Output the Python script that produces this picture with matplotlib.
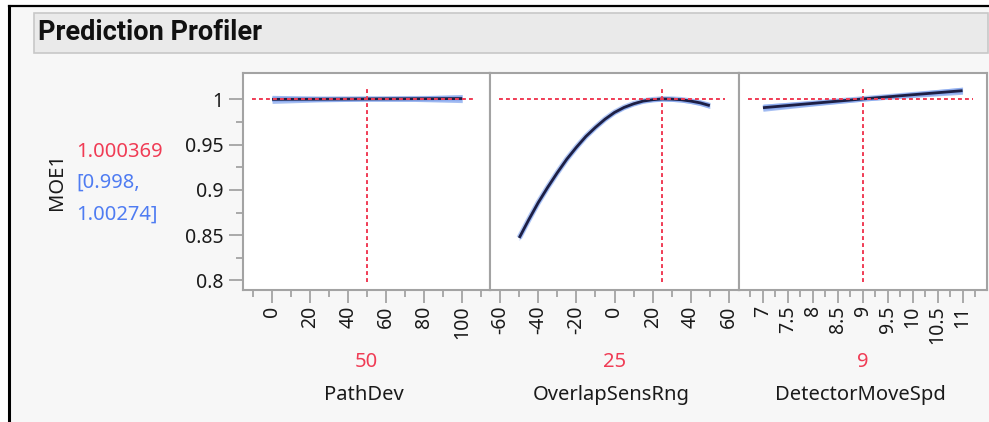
import matplotlib.pyplot as plt
from matplotlib.lines import Line2D
from matplotlib.patches import Rectangle
from matplotlib.ticker import FixedLocator

plt.rcParams['font.family'] = ['Noto Sans', 'DejaVu Sans']

# predicted response and current settings
pred = 1.000369
ci_text = ['[0.998,', '1.00274]']
factors = ['PathDev', 'OverlapSensRng', 'DetectorMoveSpd']
current = [50, 25, 9]

path_x = [0, 25, 50, 75, 100]
path_y = [0.9999, 1.0001, 1.000369, 1.0006, 1.0008]
path_hw = [0.0045, 0.003, 0.0024, 0.003, 0.0045]

overlap_x = [-50, -45, -40, -35, -30, -25, -20, -15, -10, -5, 0,
             5, 10, 15, 20, 25, 30, 35, 40, 45, 50]
overlap_y = [0.847, 0.867, 0.886, 0.903, 0.919, 0.934, 0.947, 0.959, 0.969,
             0.978, 0.9855, 0.991, 0.995, 0.998, 0.9995, 1.000369, 1.0002,
             0.9995, 0.998, 0.996, 0.993]
overlap_hw = [0.003, 0.0028, 0.0026, 0.0024, 0.0023, 0.0022, 0.0021, 0.002,
              0.002, 0.002, 0.002, 0.002, 0.002, 0.002, 0.0021, 0.0024,
              0.0025, 0.0026, 0.0028, 0.003, 0.0032]

det_x = [7, 8, 9, 10, 11]
det_y = [0.9907, 0.9955, 1.000369, 1.005, 1.0095]
det_hw = [0.004, 0.003, 0.0024, 0.003, 0.004]

xs = [path_x, overlap_x, det_x]
ys = [path_y, overlap_y, det_y]
hws = [path_hw, overlap_hw, det_hw]

xlims = [(-15.3, 114.6), (-65.3, 65.3), (6.52, 11.49)]
majors = [list(range(0, 101, 20)), list(range(-60, 61, 20)),
          [7, 7.5, 8, 8.5, 9, 9.5, 10, 10.5, 11]]
minors = [list(range(-10, 111, 20)), list(range(-50, 51, 20)),
          [6.75, 7.25, 7.75, 8.25, 8.75, 9.25, 9.75, 10.25, 10.75, 11.25]]
xlabels = [['0', '20', '40', '60', '80', '100'],
           ['-60', '-40', '-20', '0', '20', '40', '60'],
           ['7', '7.5', '8', '8.5', '9', '9.5', '10', '10.5', '11']]

W, H = 989, 422
fig = plt.figure(figsize=(W / 100, H / 100), dpi=100)
fig.patch.set_facecolor('#f7f7f7')

red = '#f03c55'
blue = '#4f7cf2'
grey = '#a3a3a3'
ink = '#1a1a1a'

def fx(px):
    return px / W

def fy(py):
    return 1 - py / H

# white margin and black frame
fig.add_artist(Rectangle((0, fy(6)), 1, 1 - fy(6), transform=fig.transFigure,
                         facecolor='white', edgecolor='none', zorder=0))
fig.add_artist(Rectangle((0, 0), fx(8), 1, transform=fig.transFigure,
                         facecolor='white', edgecolor='none', zorder=0))
fig.add_artist(Line2D([fx(9), 1], [fy(6), fy(6)], transform=fig.transFigure,
                      color='black', lw=1.6))
fig.add_artist(Line2D([fx(9), fx(9)], [0, fy(6)], transform=fig.transFigure,
                      color='black', lw=2.2))

# title bar
fig.add_artist(Rectangle((fx(34), fy(53)), fx(988) - fx(34), fy(13) - fy(53),
                         transform=fig.transFigure, facecolor='#eaeaea',
                         edgecolor='#c8c8c8', lw=1.2))
fig.text(fx(38), fy(33), 'Prediction Profiler', fontsize=19.5,
         fontweight='bold', family=['Roboto', 'DejaVu Sans'],
         va='center', ha='left', color='#111111')

# response labels on the left
fs = 14.5
fig.text(fx(57), fy(181), 'MOE1', rotation=90, fontsize=fs, ha='center',
         va='center', color=ink)
fig.text(fx(76), fy(152), f'{pred:.6f}', fontsize=fs, color=red,
         ha='left', va='center')
fig.text(fx(76), fy(183), ci_text[0], fontsize=fs, color=blue,
         ha='left', va='center')
fig.text(fx(76), fy(215), ci_text[1], fontsize=fs, color=blue,
         ha='left', va='center')

edges = [243, 490, 739, 987]
top, bottom = 73, 290

for i in range(3):
    ax = fig.add_axes([fx(edges[i]), fy(bottom), fx(edges[i + 1] - edges[i]),
                       (bottom - top) / H])
    ax.set_facecolor('white')
    ax.set_xlim(*xlims[i])
    ax.set_ylim(0.7895, 1.029)
    for s in ax.spines.values():
        s.set_color(grey)
        s.set_linewidth(1.5)

    lo = [y - h for y, h in zip(ys[i], hws[i])]
    hi = [y + h for y, h in zip(ys[i], hws[i])]
    ax.fill_between(xs[i], lo, hi, color='#6d95ea', alpha=0.6, lw=0,
                    zorder=2)
    # soft blue halo around the fitted line
    ax.plot(xs[i], ys[i], color='#7fa2ee', lw=4.0, alpha=0.6, zorder=2.5,
            solid_capstyle='butt')
    ax.plot(xs[i], ys[i], color='#1d1f45', lw=2.0, zorder=3,
            solid_capstyle='butt', solid_joinstyle='round')

    ax.axhline(pred, xmin=0.035, xmax=0.945, color=red, lw=1.4,
               ls=(0, (2, 1.6)), zorder=4)
    ax.axvline(current[i], ymin=0.038, ymax=0.934, color=red, lw=1.4,
               ls=(0, (2, 1.6)), zorder=4)

    ax.xaxis.set_major_locator(FixedLocator(majors[i]))
    ax.xaxis.set_minor_locator(FixedLocator(minors[i]))
    ax.set_xticklabels(xlabels[i], rotation=90, fontsize=14)
    ax.tick_params(axis='x', which='major', length=9, width=1.3,
                   color=grey, pad=2, labelcolor=ink)
    ax.tick_params(axis='x', which='minor', length=5, width=1.3, color=grey)

    if i == 0:
        ax.yaxis.set_major_locator(FixedLocator([0.8, 0.85, 0.9, 0.95, 1.0]))
        ax.yaxis.set_minor_locator(FixedLocator([0.825, 0.875, 0.925, 0.975]))
        ax.set_yticklabels(['0.8', '0.85', '0.9', '0.95', '1'], fontsize=14)
        ax.tick_params(axis='y', which='major', length=10, width=1.3,
                       color=grey, pad=4, labelcolor=ink)
        ax.tick_params(axis='y', which='minor', length=5, width=1.3,
                       color=grey)
    else:
        ax.set_yticks([])

    cx = fx((edges[i] + edges[i + 1]) / 2)
    fig.text(cx, fy(362), str(current[i]), fontsize=fs, color=red,
             ha='center', va='center')
    fig.text(cx - fx(3), fy(395), factors[i], fontsize=fs, color=ink,
             ha='center', va='center')

fig.savefig('out.png', dpi=100, facecolor=fig.get_facecolor())
